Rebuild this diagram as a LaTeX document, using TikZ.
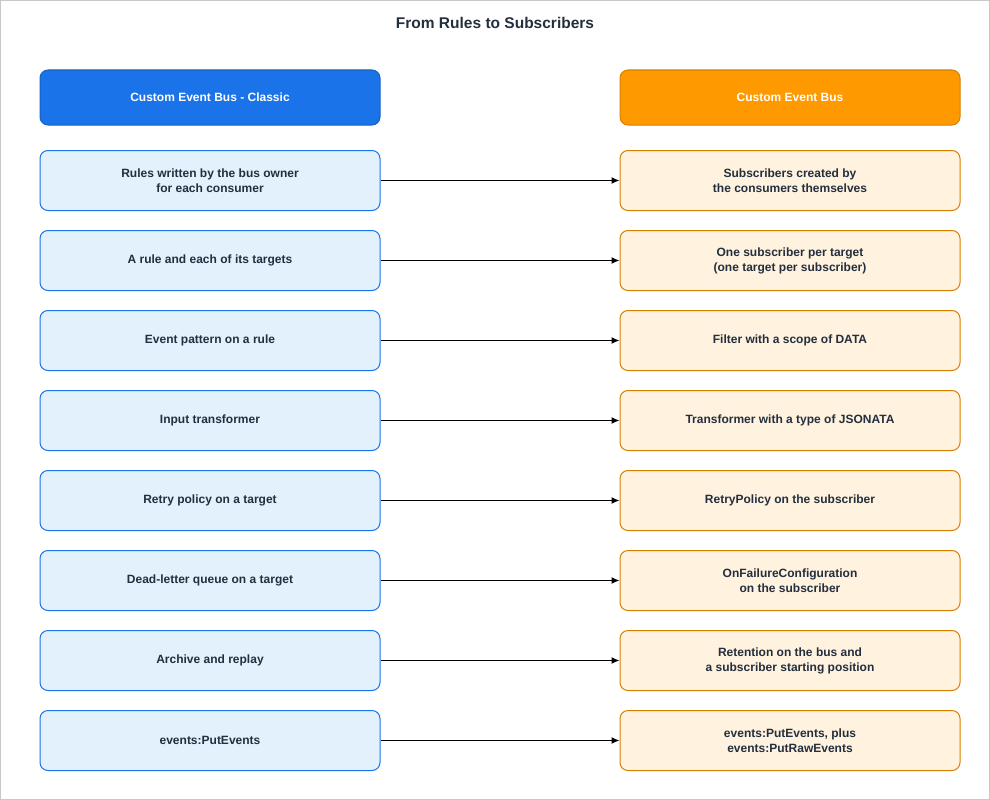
\documentclass[tikz,border=0pt]{standalone}
\usepackage{fontspec}
\setmainfont{Liberation Sans}
\usetikzlibrary{arrows.meta}
\definecolor{ink}{HTML}{232F3E}
\definecolor{framegray}{HTML}{C8C8C8}
\definecolor{classicfill}{HTML}{1A73E8}
\definecolor{classicline}{HTML}{1760C4}
\definecolor{classiclight}{HTML}{E3F1FD}
\definecolor{busfill}{HTML}{FF9900}
\definecolor{busline}{HTML}{D68000}
\definecolor{buslight}{HTML}{FFF2DF}
\tikzset{>=Latex}
\tikzstyle{arw}=[->, line width=1.3pt, >={Latex[length=8pt,width=7pt]}]
\tikzstyle{card}=[rounded corners=8pt, minimum width=340pt, minimum height=60pt, inner sep=0pt, align=center, text=ink, font=\bfseries\fontsize{12}{15}\selectfont, line width=1pt]
\tikzstyle{classichead}=[card, minimum height=55pt, fill=classicfill, draw=classicline, text=white]
\tikzstyle{bushead}=[card, minimum height=55pt, fill=busfill, draw=busline, text=white]
\tikzstyle{classic}=[card, fill=classiclight, draw=classicfill]
\tikzstyle{bus}=[card, fill=buslight, draw=busline]

\begin{document}
\begin{tikzpicture}[x=1pt,y=-1pt]
    \useasboundingbox (0,0) rectangle (990,800);
    \draw[framegray, line width=1pt] (0.5,0.5) rectangle (989.5,799.5);
    \node[text=ink, font=\bfseries\fontsize{15.5}{18}\selectfont] (title) at (495,23) {From Rules to Subscribers};

    % column heads
    \node[classichead] (classic) at (210,97.5) {Custom Event Bus - Classic};
    \node[bushead] (bus) at (790,97.5) {Custom Event Bus};

    % classic side
    \node[classic] (rules) at (210,180.5) {Rules written by the bus owner\\for each consumer};
    \node[classic] (targets) at (210,260.5) {A rule and each of its targets};
    \node[classic] (pattern) at (210,340.5) {Event pattern on a rule};
    \node[classic] (input) at (210,420.5) {Input transformer};
    \node[classic] (retry) at (210,500.5) {Retry policy on a target};
    \node[classic] (dlq) at (210,580.5) {Dead-letter queue on a target};
    \node[classic] (archive) at (210,660.5) {Archive and replay};
    \node[classic] (put) at (210,740.5) {events:PutEvents};

    % subscriber side
    \node[bus] (subs) at (790,180.5) {Subscribers created by\\the consumers themselves};
    \node[bus] (pertarget) at (790,260.5) {One subscriber per target\\(one target per subscriber)};
    \node[bus] (filter) at (790,340.5) {Filter with a scope of DATA};
    \node[bus] (jsonata) at (790,420.5) {Transformer with a type of JSONATA};
    \node[bus] (retrypol) at (790,500.5) {RetryPolicy on the subscriber};
    \node[bus] (onfail) at (790,580.5) {OnFailureConfiguration\\on the subscriber};
    \node[bus] (retention) at (790,660.5) {Retention on the bus and\\a subscriber starting position};
    \node[bus] (putraw) at (790,740.5) {events:PutEvents, plus\\events:PutRawEvents};

    % mappings
    \draw[arw] (rules) -- (subs);
    \draw[arw] (targets) -- (pertarget);
    \draw[arw] (pattern) -- (filter);
    \draw[arw] (input) -- (jsonata);
    \draw[arw] (retry) -- (retrypol);
    \draw[arw] (dlq) -- (onfail);
    \draw[arw] (archive) -- (retention);
    \draw[arw] (put) -- (putraw);
\end{tikzpicture}
\end{document}
